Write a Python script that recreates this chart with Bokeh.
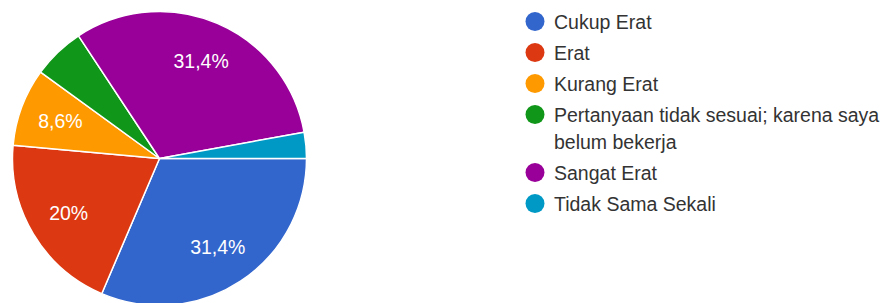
import math
import textwrap
from bokeh.plotting import figure
from bokeh.models import Range1d, ColumnDataSource
from bokeh.core.properties import value
from bokeh.embed import file_html
from bokeh.resources import INLINE

# ---- data ----
categories = ["Cukup Erat", "Erat", "Kurang Erat",
              "Pertanyaan tidak sesuai; karena saya belum bekerja",
              "Sangat Erat", "Tidak Sama Sekali"]
counts = [11, 7, 3, 2, 11, 1]
colors = ["#3366cc", "#dc3912", "#ff9900", "#109618", "#990099", "#0099c6"]

# ---- layout (pixel coordinates, y measured downward) ----
W, H = 888, 303
CX, CY, R = 159, 158, 147
LABEL_R = 0.72
LEG_X, LEG_Y0 = 534.5, 21
ROW, LINE = 31, 27
FONT = "Liberation Sans"

p = figure(width=W, height=H, output_backend="svg", toolbar_location=None,
           x_range=Range1d(0, W), y_range=Range1d(303 - H, 303),
           min_border=0)
p.axis.visible = False
p.grid.visible = False
p.outline_line_color = None
p.background_fill_color = "white"

def fy(y):
    return 303 - y

total = sum(counts)
fracs = [c / total for c in counts]
starts, ends = [], []
acc = 0.0
for f in fracs:
    starts.append(-acc * 2 * math.pi)
    acc += f
    ends.append(-acc * 2 * math.pi)

src = ColumnDataSource(dict(start=starts, end=ends, color=colors))
p.wedge(x=CX, y=fy(CY), radius=R, start_angle="start", end_angle="end",
        direction="clock", fill_color="color", line_color="white",
        line_width=1.5, source=src)

# slice labels
lx, ly, lt = [], [], []
for f, s, e in zip(fracs, starts, ends):
    if f < 0.08:
        continue
    mid = (s + e) / 2
    lx.append(CX + LABEL_R * R * math.cos(mid))
    ly.append(fy(CY) + LABEL_R * R * math.sin(mid))
    pct = round(f * 100, 1)
    txt = (f"{pct:.1f}".rstrip("0").rstrip(".")).replace(".", ",") + "%"
    lt.append(txt)
p.text(x=lx, y=ly, text=lt, text_color="white", text_font=value(FONT),
       text_font_size="19.5px", text_align="center", text_baseline="middle")

# legend
mx, my, mc = [], [], []
tx, ty, tt = [], [], []
y = LEG_Y0
for cat, col in zip(categories, colors):
    lines = textwrap.wrap(cat, 36)
    mx.append(LEG_X); my.append(fy(y)); mc.append(col)
    for i, ln in enumerate(lines):
        tx.append(LEG_X + 19); ty.append(fy(y + i * LINE)); tt.append(ln)
    y += ROW + (len(lines) - 1) * LINE
p.scatter(x=mx, y=my, size=19, marker="circle", fill_color=mc, line_color=None)
p.text(x=tx, y=ty, text=tt, text_color="#333333", text_font=value(FONT),
       text_font_size="19.5px", text_align="left", text_baseline="middle")

open("out.html", "w").write(file_html(p, INLINE))
